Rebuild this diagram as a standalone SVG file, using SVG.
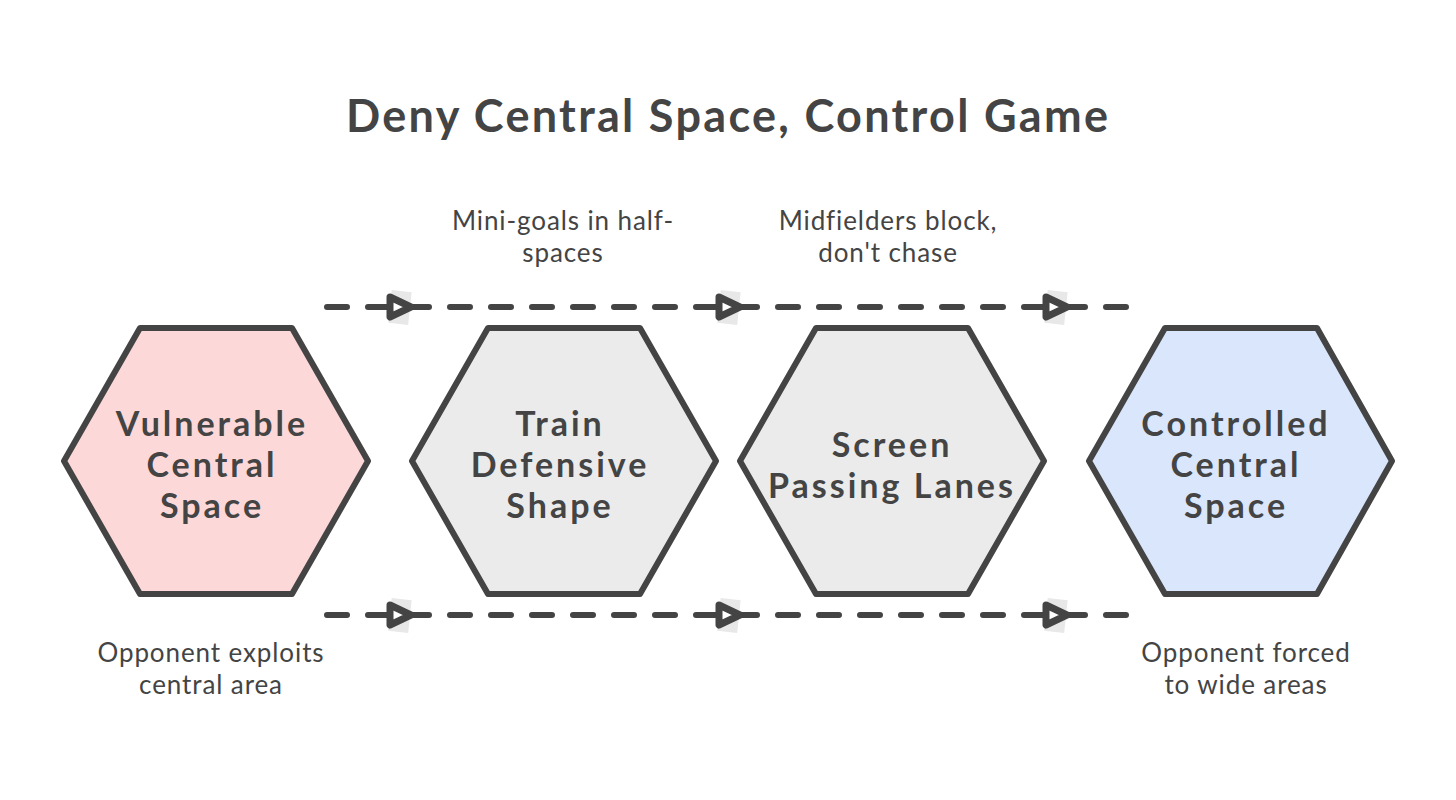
<svg xmlns="http://www.w3.org/2000/svg" width="1456" height="800" viewBox="0 0 1456 800">
  <defs>
    <style>
      .hex { stroke: #444444; stroke-width: 6; stroke-linejoin: round; }
      .pink { fill: #fdd8d8; }
      .gray { fill: #ebebeb; }
      .blue { fill: #dae6fb; }
      .lbl { font-family: "Lato", "Noto Sans", sans-serif; font-weight: 700; font-size: 34px; letter-spacing: 3px; fill: #444444; text-anchor: middle; }
      .cap { font-family: "Lato", "Noto Sans", sans-serif; font-size: 26px; letter-spacing: 0.9px; fill: #444444; text-anchor: middle; }
      .title { font-family: "Lato", "Noto Sans", sans-serif; font-weight: 700; font-size: 45px; fill: #444444; text-anchor: middle; }
      .dash { stroke: #444444; stroke-width: 6; stroke-linecap: round; stroke-dasharray: 20 21; fill: none; }
      .ah { fill: #ffffff; stroke: #444444; stroke-width: 7; stroke-linejoin: round; }
      .ahbg { fill: #e8e8e8; }
    </style>
    <g id="arrowhead">
      <rect class="ahbg" x="-10" y="-16" width="20" height="33" transform="rotate(6)"/>
      <polygon class="ah" points="-10,-10 11,0 -10,10"/>
    </g>
  </defs>

  <rect width="1456" height="800" fill="#ffffff"/>

  <text class="title" x="727" y="132" textLength="762" lengthAdjust="spacing">Deny Central Space, Control Game</text>

  <g id="connectors">
    <line class="dash" x1="327" y1="307" x2="1130" y2="307"/>
    <line class="dash" x1="327" y1="615" x2="1130" y2="615"/>
    <use href="#arrowhead" x="400" y="307"/>
    <use href="#arrowhead" x="729" y="307"/>
    <use href="#arrowhead" x="1056" y="307"/>
    <use href="#arrowhead" x="400" y="615"/>
    <use href="#arrowhead" x="729" y="615"/>
    <use href="#arrowhead" x="1056" y="615"/>
  </g>

  <g id="node-vulnerable">
    <polygon class="hex pink" points="140,328 292,328 368,461 292,594 140,594 64,461"/>
    <text class="lbl" x="212" y="436">Vulnerable</text>
    <text class="lbl" x="212" y="477">Central</text>
    <text class="lbl" x="212" y="518">Space</text>
  </g>

  <g id="node-train">
    <polygon class="hex gray" points="488,328 640,328 716,461 640,594 488,594 412,461"/>
    <text class="lbl" x="560" y="436">Train</text>
    <text class="lbl" x="560" y="477">Defensive</text>
    <text class="lbl" x="560" y="518">Shape</text>
  </g>

  <g id="node-screen">
    <polygon class="hex gray" points="816,328 968,328 1044,461 968,594 816,594 740,461"/>
    <text class="lbl" x="892" y="457">Screen</text>
    <text class="lbl" x="892" y="498">Passing Lanes</text>
  </g>

  <g id="node-controlled">
    <polygon class="hex blue" points="1165,328 1317,328 1392,461 1317,594 1165,594 1089,461"/>
    <text class="lbl" x="1236" y="436">Controlled</text>
    <text class="lbl" x="1236" y="477">Central</text>
    <text class="lbl" x="1236" y="518">Space</text>
  </g>

  <g id="captions">
    <text class="cap" x="563" y="230">Mini-goals in half-</text>
    <text class="cap" x="563" y="262">spaces</text>
    <text class="cap" x="888" y="230">Midfielders block,</text>
    <text class="cap" x="888" y="262">don't chase</text>
    <text class="cap" x="211" y="662">Opponent exploits</text>
    <text class="cap" x="211" y="694">central area</text>
    <text class="cap" x="1246" y="662">Opponent forced</text>
    <text class="cap" x="1246" y="694">to wide areas</text>
  </g>
</svg>
